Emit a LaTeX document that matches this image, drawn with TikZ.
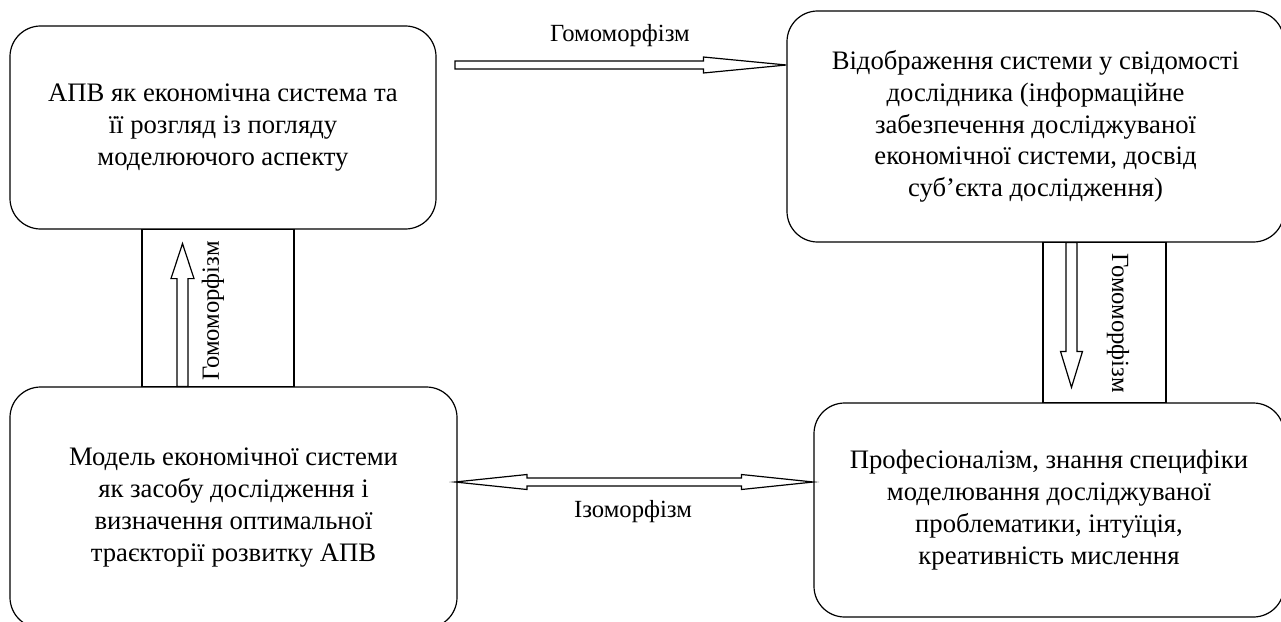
\documentclass[tikz,border=0pt]{standalone}
\usepackage{fontspec}
\setmainfont{Liberation Serif}
\usetikzlibrary{calc}

\tikzset{
    box/.style={draw, line width=0.9pt, rounded corners=23pt, inner sep=0pt, align=center,
        font=\fontsize{20}{23.8}\selectfont},
    hollow/.style={draw, line width=0.9pt, fill=white, line join=miter},
    frame/.style={draw, line width=0.9pt},
    lbl/.style={font=\fontsize{18.5}{22}\selectfont, inner sep=0pt}
}

\begin{document}
\begin{tikzpicture}[x=0.75pt, y=-0.75pt]
            \useasboundingbox (0,0) rectangle (1281,621);

            % draw the four boxes
            \node[box, minimum width=319.5pt, minimum height=152.25pt] (A) at (223,127.5)
                {АПВ як економічна система та\\ її розгляд із погляду\\ моделюючого аспекту};
            \node[box, minimum width=372.75pt, minimum height=173.25pt] (B) at (1035.5,126.5)
                {Відображення системи у свідомості\\ дослідника (інформаційне\\ забезпечення досліджуваної\\ економічної системи, досвід\\ суб’єкта дослідження)};
            \node[box, minimum width=335.25pt, minimum height=180.75pt] (C) at (233.5,507.5)
                {Модель економічної системи\\ як засобу дослідження і\\ визначення оптимальної\\ траєкторії розвитку АПВ};
            \node[box, minimum width=352.5pt, minimum height=160.5pt] (D) at (1049,510)
                {Професіоналізм, знання специфіки\\ моделювання досліджуваної\\ проблематики, інтуїція,\\ креативність мислення};

            % draw frames between the boxes
            \draw[frame] ($(A.south)+(-81,0)$) rectangle ($(C.north)+(60.5,0)$);
            \draw[frame] ($(B.south)+(7.5,0)$) rectangle ($(D.north)+(117,0)$);

            % top arrow
            \coordinate (gs) at (455,65);
            \coordinate (ge) at (B.west |- gs);
            \draw[hollow] ($(gs)+(0,-4)$) -- ($(ge)+(-83,-4)$) -- ($(ge)+(-83,-8)$) -- (ge)
                -- ($(ge)+(-83,8)$) -- ($(ge)+(-83,4)$) -- ($(gs)+(0,4)$) -- cycle;
            \node[lbl] (g1) at (620,36) {Гомоморфізм};

            % left arrow, up
            \coordinate (us) at ($(C.north)+(-51,0)$);
            \coordinate (ue) at ($(A.south)+(-40.5,14)$);
            \draw[hollow] ($(us)+(-5.5,0)$) -- ($(ue)+(-5.5,35)$) -- ($(ue)+(-11.5,35)$) -- (ue)
                -- ($(ue)+(11.5,35)$) -- ($(ue)+(5.5,35)$) -- ($(us)+(5.5,0)$) -- cycle;
            \node[lbl, rotate=90] (g2) at (213,311) {Гомоморфізм};

            % right arrow, down
            \coordinate (ds) at ($(B.south)+(36,0)$);
            \coordinate (de) at ($(D.north)+(22.5,-15)$);
            \draw[hollow] ($(ds)+(-5.5,0)$) -- ($(de)+(-5.5,-36)$) -- ($(de)+(-11,-36)$) -- (de)
                -- ($(de)+(11,-36)$) -- ($(de)+(5.5,-36)$) -- ($(ds)+(5.5,0)$) -- cycle;
            \node[lbl, rotate=-90] (g3) at (1118,323) {Гомоморфізм};

            % bottom arrow, both ways
            \coordinate (is) at (455,482);
            \coordinate (ie) at (D.west |- is);
            \draw[hollow] (is) -- ($(is)+(72,-7.5)$) -- ($(is)+(72,-4)$) -- ($(ie)+(-72,-4)$)
                -- ($(ie)+(-72,-7.5)$) -- (ie) -- ($(ie)+(-72,7.5)$) -- ($(ie)+(-72,4)$)
                -- ($(is)+(72,4)$) -- ($(is)+(72,7.5)$) -- cycle;
            \node[lbl] (iz) at (633,512) {Ізоморфізм};
        \end{tikzpicture}
\end{document}
